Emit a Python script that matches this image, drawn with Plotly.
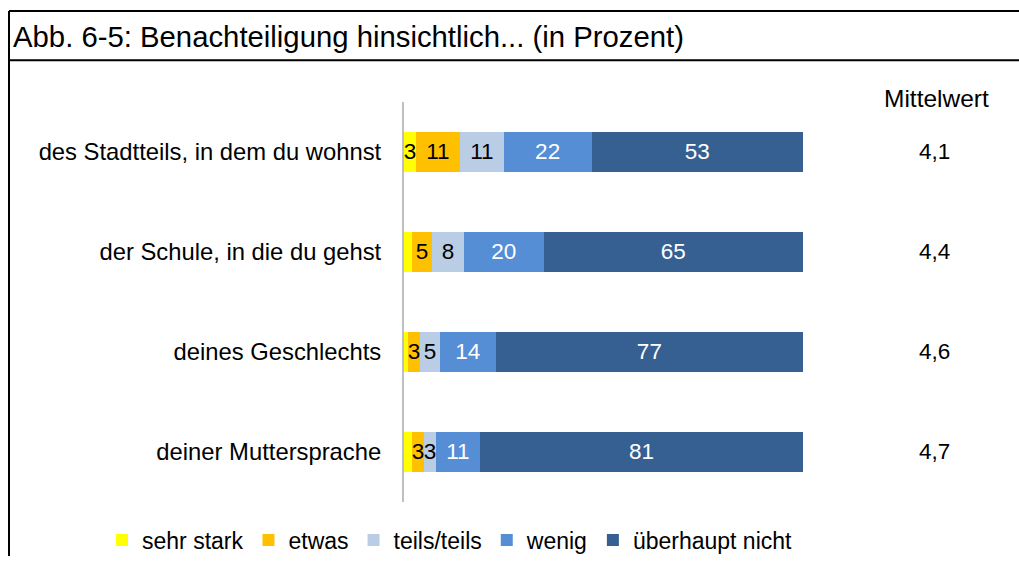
import plotly.graph_objects as go

# Survey items (top to bottom) and answer shares in percent
categories = [
    "des Stadtteils, in dem du wohnst",
    "der Schule, in die du gehst",
    "deines Geschlechts",
    "deiner Muttersprache",
]
sehr_stark = [3, 2, 1, 2]
etwas = [11, 5, 3, 3]
teils_teils = [11, 8, 5, 3]
wenig = [22, 20, 14, 11]
ueberhaupt_nicht = [53, 65, 77, 81]
mittelwert = ["4,1", "4,4", "4,6", "4,7"]

series = [
    ("sehr stark", sehr_stark, "#FFFF00", "black"),
    ("etwas", etwas, "#FFC000", "black"),
    ("teils/teils", teils_teils, "#B9CDE5", "black"),
    ("wenig", wenig, "#558ED5", "white"),
    ("überhaupt nicht", ueberhaupt_nicht, "#376092", "white"),
]

FONT = "Liberation Sans, Arial, sans-serif"
W, H = 1019, 562

fig = go.Figure()
for name, vals, color, tcolor in series:
    fig.add_trace(go.Bar(
        y=categories,
        x=vals,
        name=name,
        orientation="h",
        marker=dict(color=color, line=dict(width=0)),
        text=[str(v) if v >= 3 else "" for v in vals],
        textposition="inside",
        insidetextanchor="middle",
        textangle=0,
        constraintext="none",
        textfont=dict(family=FONT, size=22.5, color=tcolor),
        hoverinfo="skip",
    ))

# plot area in pixels
x0, x1 = 404, 803
y_top, y_bot = 103, 507

fig.update_layout(
    width=W, height=H,
    margin=dict(l=0, r=0, t=0, b=0),
    paper_bgcolor="white",
    plot_bgcolor="white",
    barmode="stack",
    bargap=0.6,
    font=dict(family=FONT, size=22, color="black"),
    xaxis=dict(
        domain=[x0 / W, x1 / W],
        range=[0, 100],
        visible=False,
        fixedrange=True,
    ),
    yaxis=dict(
        domain=[(H - y_bot) / H, (H - y_top) / H],
        autorange="reversed",
        showline=True,
        linecolor="#BFBFBF",
        linewidth=2,
        showgrid=False,
        zeroline=False,
        ticks="",
        ticklabelstandoff=16,
        tickfont=dict(family=FONT, size=23.8, color="black"),
    ),
    legend=dict(
        orientation="h",
        x=102 / W, xanchor="left",
        y=(H - 546) / H, yanchor="middle",
        font=dict(family=FONT, size=23, color="black"),
        traceorder="normal",
        itemclick=False,
        bgcolor="rgba(0,0,0,0)",
    ),
    showlegend=True,
)

# Title frame
line = dict(color="black", width=2)
fig.add_shape(type="line", xref="paper", yref="paper",
              x0=9 / W, x1=1, y0=(H - 11) / H, y1=(H - 11) / H, line=line)
fig.add_shape(type="line", xref="paper", yref="paper",
              x0=9 / W, x1=1, y0=(H - 61) / H, y1=(H - 61) / H, line=line)
fig.add_shape(type="line", xref="paper", yref="paper",
              x0=9 / W, x1=9 / W, y0=0, y1=(H - 11) / H, line=line)

fig.add_annotation(
    text="Abb. 6-5: Benachteiligung hinsichtlich... (in Prozent)",
    xref="paper", yref="paper", x=11 / W, y=(H - 37) / H,
    xanchor="left", yanchor="middle", showarrow=False,
    font=dict(family=FONT, size=29.3, color="black"),
)

# Mean column
fig.add_annotation(
    text="Mittelwert", xref="paper", yref="paper",
    x=936 / W, y=(H - 100) / H, xanchor="center", yanchor="middle",
    showarrow=False, font=dict(family=FONT, size=24.5, color="black"),
)
for cat, m in zip(categories, mittelwert):
    fig.add_annotation(
        text=m, xref="paper", yref="y", x=934 / W, y=cat,
        xanchor="center", yanchor="middle", showarrow=False,
        font=dict(family=FONT, size=22.5, color="black"),
    )

fig.write_html("out.html")
